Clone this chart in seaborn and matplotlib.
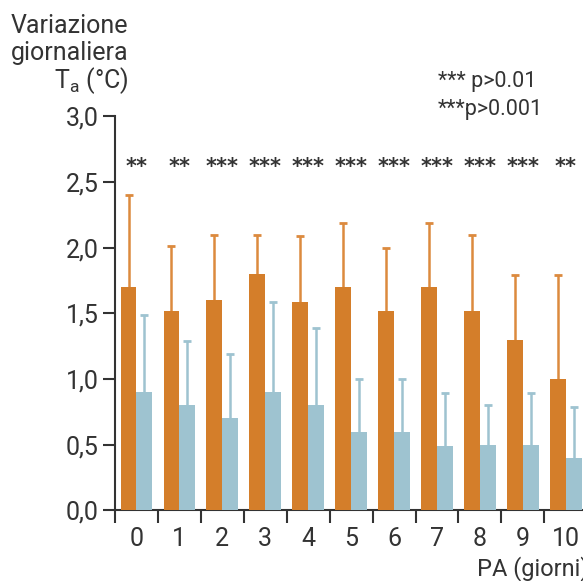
import matplotlib
matplotlib.use("Agg")
import matplotlib.pyplot as plt
import numpy as np
import pandas as pd
import seaborn as sns

# values
days = ["0", "1", "2", "3", "4", "5", "6", "7", "8", "9", "10"]
orange_mean = [1.70, 1.52, 1.60, 1.80, 1.59, 1.70, 1.52, 1.70, 1.52, 1.30, 1.00]
orange_top = [2.40, 2.01, 2.10, 2.10, 2.09, 2.19, 2.00, 2.19, 2.10, 1.79, 1.79]
blue_mean = [0.90, 0.80, 0.70, 0.90, 0.80, 0.60, 0.60, 0.49, 0.50, 0.50, 0.40]
blue_top = [1.49, 1.29, 1.19, 1.59, 1.39, 1.00, 1.00, 0.89, 0.80, 0.89, 0.79]
stars = ["**", "**", "***", "***", "***", "***", "***", "***", "***", "***", "**"]
y_ticks = [0.0, 0.5, 1.0, 1.5, 2.0, 2.5, 3.0]

ORANGE = "#d47e2a"
ORANGE_ERR = "#dc8a3e"
BLUE = "#9ec3d0"
DARK = "#333333"

sns.set_theme(style="ticks")
plt.rcParams["font.family"] = ["Roboto", "DejaVu Sans"]
plt.rcParams["mathtext.fontset"] = "custom"
plt.rcParams["mathtext.rm"] = "Roboto"

df = pd.DataFrame({
    "PA": days * 2,
    "gruppo": ["A"] * len(days) + ["B"] * len(days),
    "valore": orange_mean + blue_mean,
})

fig = plt.figure(figsize=(5.83, 5.81), dpi=100)
ax = fig.add_axes([0.1973, 0.1217, 0.8100, 0.678])

sns.barplot(data=df, x="PA", y="valore", hue="gruppo", palette=[ORANGE, BLUE],
            width=0.74, errorbar=None, saturation=1, legend=False,
            linewidth=0, ax=ax, zorder=3)

n = len(days)
bars = ax.patches
ox = [b.get_x() + b.get_width() / 2 for b in bars[:n]]
bx = [b.get_x() + b.get_width() / 2 for b in bars[n:2 * n]]

# upper-only error bars: stem from the bar top, cap at the top only
ax.vlines(ox, orange_mean, orange_top, color=ORANGE_ERR, linewidth=1.8, zorder=2)
ax.plot(ox, orange_top, linestyle="none", marker="_", markersize=6,
        markeredgewidth=2.0, color=ORANGE_ERR, zorder=2)
ax.vlines(bx, blue_mean, blue_top, color=BLUE, linewidth=1.8, zorder=2)
ax.plot(bx, blue_top, linestyle="none", marker="_", markersize=6,
        markeredgewidth=2.0, color=BLUE, zorder=2)

for i, s in enumerate(stars):
    ax.text(i, 2.57, s, ha="center", va="baseline", fontsize=15,
            family="DejaVu Sans", fontweight="bold", color=DARK)

ax.set_xlim(-0.5, 10.5)
ax.set_ylim(0, 3.0)
ax.set_yticks(y_ticks)
ax.set_yticklabels([f"{v:.1f}".replace(".", ",") for v in y_ticks])
ax.set_xticks(range(n))
ax.set_xticklabels(days)
ax.set_xticks(np.arange(-0.5, n, 1.0), minor=True)
ax.set_xlabel("")
ax.set_ylabel("")

ax.tick_params(axis="x", which="major", length=0, pad=12, labelsize=18, colors=DARK)
ax.tick_params(axis="x", which="minor", length=9.5, width=1.5, color=DARK)
ax.tick_params(axis="y", length=9, width=1.5, pad=3, labelsize=18, colors=DARK)
sns.despine(ax=ax)
for side in ["left", "bottom"]:
    ax.spines[side].set_color(DARK)
    ax.spines[side].set_linewidth(1.5)

fig.text(0.220, 0.943, "Variazione", ha="right", va="baseline", fontsize=18, color=DARK)
fig.text(0.220, 0.897, "giornaliera", ha="right", va="baseline", fontsize=18, color=DARK)
fig.text(0.220, 0.849, r"T$_\mathrm{a}$ (°C)", ha="right", va="baseline", fontsize=18, color=DARK)

fig.text(0.751, 0.850, "*** p>0.01", ha="left", va="baseline", fontsize=15.5, color=DARK)
fig.text(0.751, 0.802, "***p>0.001", ha="left", va="baseline", fontsize=15.5, color=DARK)

fig.text(0.818, 0.010, "PA (giorni)", ha="left", va="baseline", fontsize=17, color=DARK)

fig.savefig("out.png", dpi=100)
